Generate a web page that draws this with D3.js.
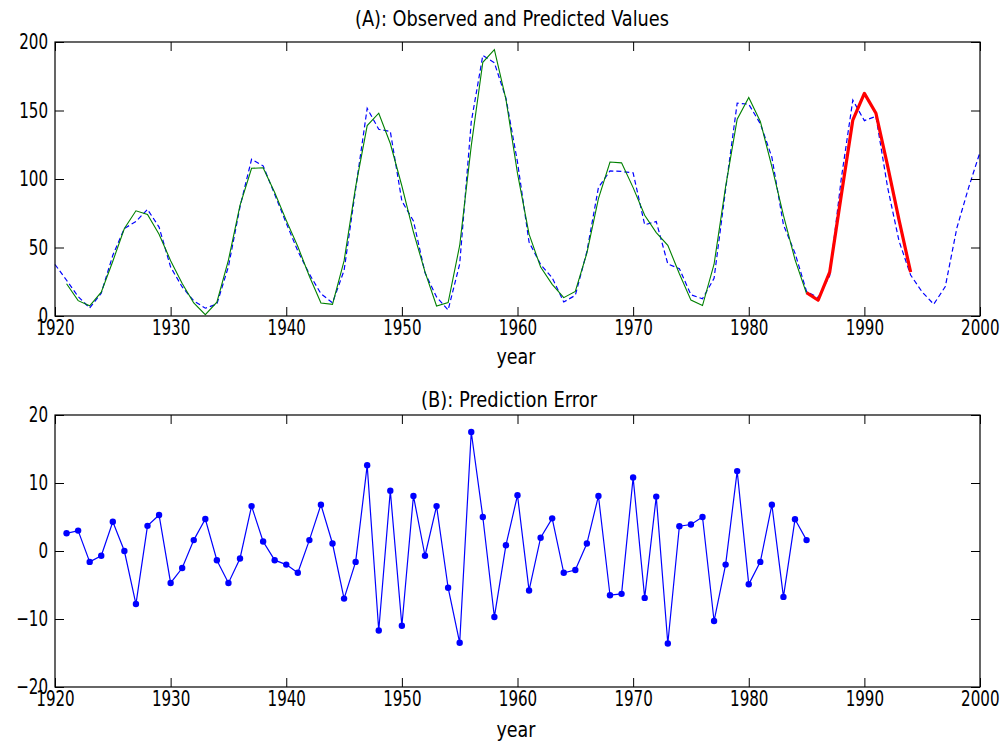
<!DOCTYPE html>
<html>
<head>
<meta charset="utf-8">
<script src="https://cdn.jsdelivr.net/npm/d3@7/dist/d3.min.js"></script>
<style>
  html, body { margin: 0; padding: 0; background: #fff; }
  svg { display: block; }
  .lbl { font-family: "DejaVu Sans Condensed", "Liberation Sans Narrow", sans-serif; font-size: 21px; fill: #000; }
  .tick text { font-family: "DejaVu Sans Condensed", "Liberation Sans Narrow", sans-serif; font-size: 21px; fill: #000; }
</style>
</head>
<body>
<script>
// Yearly sunspot numbers (observed), 1920-2000
const obsYears = d3.range(1920, 2001);
const observed = [
  37.6, 26.1, 14.2, 5.8, 16.7, 44.3, 63.9, 69.0, 77.8, 64.9,
  35.7, 21.2, 11.1, 5.7, 8.7, 36.1, 79.7, 114.4, 109.6, 88.8,
  67.8, 47.5, 30.6, 16.3, 9.6, 33.2, 92.6, 151.6, 136.3, 134.7,
  83.9, 69.4, 31.5, 13.9, 4.4, 38.0, 141.7, 190.2, 184.8, 159.0,
  112.3, 53.9, 37.6, 27.9, 10.2, 15.1, 47.0, 93.8, 105.9, 105.5,
  104.5, 66.6, 68.9, 38.0, 34.5, 15.5, 12.6, 27.5, 92.5, 155.4,
  154.6, 140.4, 115.9, 66.6, 45.9, 17.9, 13.4, 29.4, 100.2, 157.6,
  142.6, 145.7, 94.3, 54.6, 29.9, 17.5, 8.6, 21.5, 64.3, 93.3,
  119.6
];

// One-step-ahead predictions, 1921-1985
const predYears = d3.range(1921, 1986);
const predicted = [
  23.5, 11.2, 7.4, 17.4, 40.0, 63.9, 76.8, 74.1, 59.6,
  40.4, 23.7, 9.5, 1.0, 10.1, 40.8, 80.8, 107.8, 108.2, 90.2,
  69.8, 50.7, 29.0, 9.5, 8.5, 40.2, 94.2, 139.0, 148.0, 125.9,
  94.9, 61.3, 32.2, 7.3, 9.8, 51.5, 124.2, 185.2, 194.5, 158.2,
  104.1, 59.7, 35.7, 23.1, 13.4, 17.9, 45.9, 85.7, 112.4, 111.8,
  93.7, 73.5, 60.9, 51.6, 30.9, 11.6, 7.6, 37.8, 94.5, 143.7,
  159.5, 142.0, 109.1, 73.4, 41.2, 16.3
];

// Multi-step forecast, 1985-1994
const fcYears = d3.range(1985, 1995);
const forecast = [17.0, 11.5, 32.0, 88.0, 143.0, 162.5, 148.0, 110.0, 70.0, 32.0];

// Prediction error, 1921-1985
const errYears = d3.range(1921, 1986);
const errors = [
  2.6, 3.0, -1.6, -0.7, 4.3, 0.0, -7.8, 3.7, 5.3,
  -4.7, -2.5, 1.6, 4.7, -1.35, -4.7, -1.1, 6.6, 1.4, -1.35,
  -2.0, -3.2, 1.6, 6.8, 1.1, -7.0, -1.6, 12.6, -11.7, 8.85,
  -11.0, 8.1, -0.7, 6.6, -5.4, -13.5, 17.5, 5.0, -9.7, 0.85,
  8.2, -5.8, 1.95, 4.8, -3.2, -2.8, 1.1, 8.1, -6.5, -6.3,
  10.8, -6.9, 8.0, -13.6, 3.65, 3.9, 5.0, -10.3, -2.0, 11.75,
  -4.9, -1.6, 6.8, -6.75, 4.66, 1.6
];

const xTicks = [1920, 1930, 1940, 1950, 1960, 1970, 1980, 1990, 2000];
const yTicksA = [0, 50, 100, 150, 200];
const yTicksB = [-20, -10, 0, 10, 20];

const W = 1001, H = 741;
const svg = d3.select("body").append("svg").attr("width", W).attr("height", H);

const left = 55, right = 980;
const panelA = { top: 42, bottom: 316 };
const panelB = { top: 415, bottom: 687 };
const squeeze = 0.8;   // horizontal squeeze for the narrow numerals

const x = d3.scaleLinear().domain([1920, 2000]).range([left, right]);
const yA = d3.scaleLinear().domain([0, 200]).range([panelA.bottom, panelA.top]);
const yB = d3.scaleLinear().domain([-20, 20]).range([panelB.bottom, panelB.top]);

// Squeeze tick labels horizontally about their own anchor point
function narrow(sel) {
  sel.selectAll(".tick text").each(function () {
    const t = d3.select(this);
    const ax = +t.attr("x") || 0;
    t.attr("x", ax / squeeze).attr("transform", `scale(${squeeze},1)`);
  });
}

// Boxed axes with inward ticks on all four sides, labels on bottom and left
function frame(y, p, yTicks) {
  const g = svg.append("g");
  const xb = g.append("g").attr("transform", `translate(0,${p.bottom})`)
    .call(d3.axisBottom(x).tickValues(xTicks).tickFormat(d3.format("d")).tickSizeInner(-9).tickSizeOuter(0).tickPadding(4));
  // the rightmost year label sits flush against the page edge
  xb.selectAll(".tick text").filter(d => d === 2000)
    .attr("text-anchor", "end").attr("x", 999 - right);
  xb.call(narrow);
  g.append("g").attr("transform", `translate(0,${p.top})`)
    .call(d3.axisTop(x).tickValues(xTicks).tickFormat("").tickSizeInner(-9).tickSizeOuter(0));
  g.append("g").attr("transform", `translate(${left},0)`)
    .call(d3.axisLeft(y).tickValues(yTicks).tickFormat(d3.format("d")).tickSizeInner(-9).tickSizeOuter(0).tickPadding(7))
    .call(narrow);
  g.append("g").attr("transform", `translate(${right},0)`)
    .call(d3.axisRight(y).tickValues(yTicks).tickFormat("").tickSizeInner(-9).tickSizeOuter(0));
  g.selectAll(".domain").remove();
  g.selectAll(".tick line").attr("stroke", "#000").attr("stroke-width", 1);
  g.append("rect").attr("x", left).attr("y", p.top)
    .attr("width", right - left).attr("height", p.bottom - p.top)
    .attr("fill", "none").attr("stroke", "#000").attr("stroke-width", 1.2);
  return g;
}

function label(txt, cx, baseline, len) {
  svg.append("text").attr("class", "lbl").attr("x", cx).attr("y", baseline)
    .attr("text-anchor", "middle")
    .attr("textLength", len).attr("lengthAdjust", "spacingAndGlyphs")
    .text(txt);
}

// Panel A: observed and predicted values
const plotA = svg.append("g");
const lineA = (ys) => d3.line().x((d, i) => x(ys[i])).y(d => yA(d));

plotA.append("path").datum(observed)
  .attr("d", lineA(obsYears))
  .attr("fill", "none").attr("stroke", "#0000ff").attr("stroke-width", 1.2)
  .attr("stroke-dasharray", "5,3");
plotA.append("path").datum(predicted)
  .attr("d", lineA(predYears))
  .attr("fill", "none").attr("stroke", "#008000").attr("stroke-width", 1.1);
plotA.append("path").datum(forecast)
  .attr("d", lineA(fcYears))
  .attr("fill", "none").attr("stroke", "#ff0000").attr("stroke-width", 3.2)
  .attr("stroke-linejoin", "round");

frame(yA, panelA, yTicksA);

label("(A): Observed and Predicted Values", 512, 26, 314);
label("year", 516, 364, 39);

// Panel B: prediction error
const plotB = svg.append("g");
plotB.append("path").datum(errors)
  .attr("d", d3.line().x((d, i) => x(errYears[i])).y(d => yB(d)))
  .attr("fill", "none").attr("stroke", "#0000ff").attr("stroke-width", 1.2);
plotB.selectAll("circle").data(errors).join("circle")
  .attr("cx", (d, i) => x(errYears[i])).attr("cy", d => yB(d))
  .attr("r", 3.2).attr("fill", "#0000ff");

frame(yB, panelB, yTicksB);

label("(B): Prediction Error", 509, 407, 176);
label("year", 516, 737, 39);
</script>
</body>
</html>
